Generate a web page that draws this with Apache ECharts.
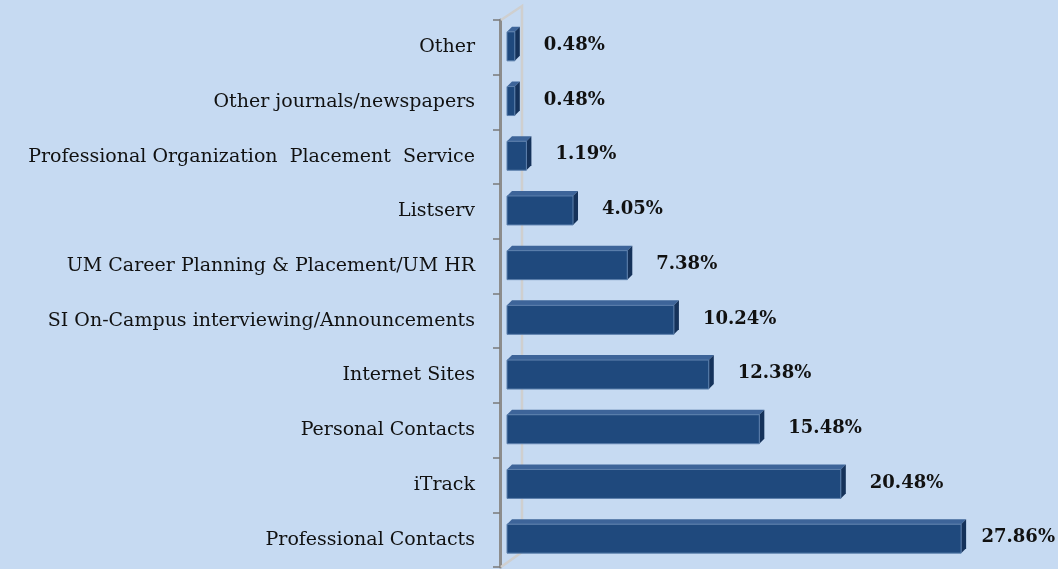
<!DOCTYPE html>
<html>
<head>
<meta charset="utf-8">
<script src="https://cdn.jsdelivr.net/npm/echarts@6/dist/echarts.min.js"></script>
<style>
  html, body { margin: 0; padding: 0; background: #c6daf2; }
  #chart { width: 1058px; height: 569px; }
</style>
</head>
<body>
<div id="chart"></div>
<script>
// bottom to top, as on the axis
const categories = [
  'Professional Contacts',
  'iTrack',
  'Personal Contacts',
  'Internet Sites',
  'SI On-Campus interviewing/Announcements',
  'UM Career Planning & Placement/UM HR',
  'Listserv',
  'Professional Organization  Placement  Service',
  'Other journals/newspapers',
  'Other'
]
const values = [27.86, 20.48, 15.48, 12.38, 10.24, 7.38, 4.05, 1.19, 0.48, 0.48]

const chart = echarts.init(document.getElementById('chart'))

const depth = 5
const wallGap = 7
const labelFont = 'bold 18px "DejaVu Serif", "Liberation Serif", serif'

const renderBar = (params, api) => {
  const idx = api.value(0)
  const val = api.value(1)
  const start = api.coord([0, idx])
  const end = api.coord([val, idx])
  const band = api.size([0, 1])[1]
  const h = band * 0.53
  const x0 = start[0] + wallGap
  const x1 = end[0] + wallGap
  const yTop = end[1] - h / 2 - 1
  const yBot = yTop + h
  const text = val.toFixed(2) + '%'
  const tw = echarts.format.getTextRect ? echarts.format.getTextRect(text, labelFont).width : 80
  let tx = x1 + depth + 24
  if (tx + tw > 1055) tx = 1055 - tw
  return {
    type: 'group',
    children: [
      {
        type: 'polygon',
        shape: { points: [[x0, yTop], [x0 + depth, yTop - depth], [x1 + depth, yTop - depth], [x1, yTop]] },
        style: { fill: '#3d6499' }
      },
      {
        type: 'polygon',
        shape: { points: [[x1, yTop], [x1 + depth, yTop - depth], [x1 + depth, yBot - depth], [x1, yBot]] },
        style: { fill: '#15325a' }
      },
      {
        type: 'rect',
        shape: { x: x0, y: yTop, width: x1 - x0, height: h },
        style: { fill: '#1f497d', stroke: '#5d80ad', lineWidth: 1 }
      },
      {
        type: 'text',
        style: {
          text: text,
          x: tx,
          y: yTop + h / 2 - 1,
          verticalAlign: 'middle',
          font: labelFont,
          fill: '#111'
        }
      }
    ]
  }
}

chart.setOption({
  backgroundColor: '#c6daf2',
  animation: false,
  grid: { left: 500, right: 69, top: 20, bottom: 2 },
  xAxis: {
    type: 'value',
    min: 0,
    max: 30,
    show: false
  },
  yAxis: {
    type: 'category',
    data: categories,
    axisLine: { lineStyle: { color: '#8c8c8c', width: 3 } },
    axisTick: { show: true, length: 7, lineStyle: { color: '#7a7a7a', width: 1.5 } },
    axisLabel: {
      margin: 25,
      color: '#111',
      fontSize: 19,
      fontFamily: '"DejaVu Serif", "Liberation Serif", serif'
    }
  },
  graphic: [
    {
      type: 'polyline',
      shape: { points: [[501, 20], [522, 6], [522, 552], [501, 567]] },
      style: { stroke: '#cfcfcf', lineWidth: 2.5, fill: null },
      z: 1
    }
  ],
  series: [
    {
      type: 'custom',
      renderItem: renderBar,
      encode: { x: 1, y: 0 },
      data: values.map((v, i) => [i, v]),
      z: 3
    }
  ]
})
</script>
</body>
</html>
